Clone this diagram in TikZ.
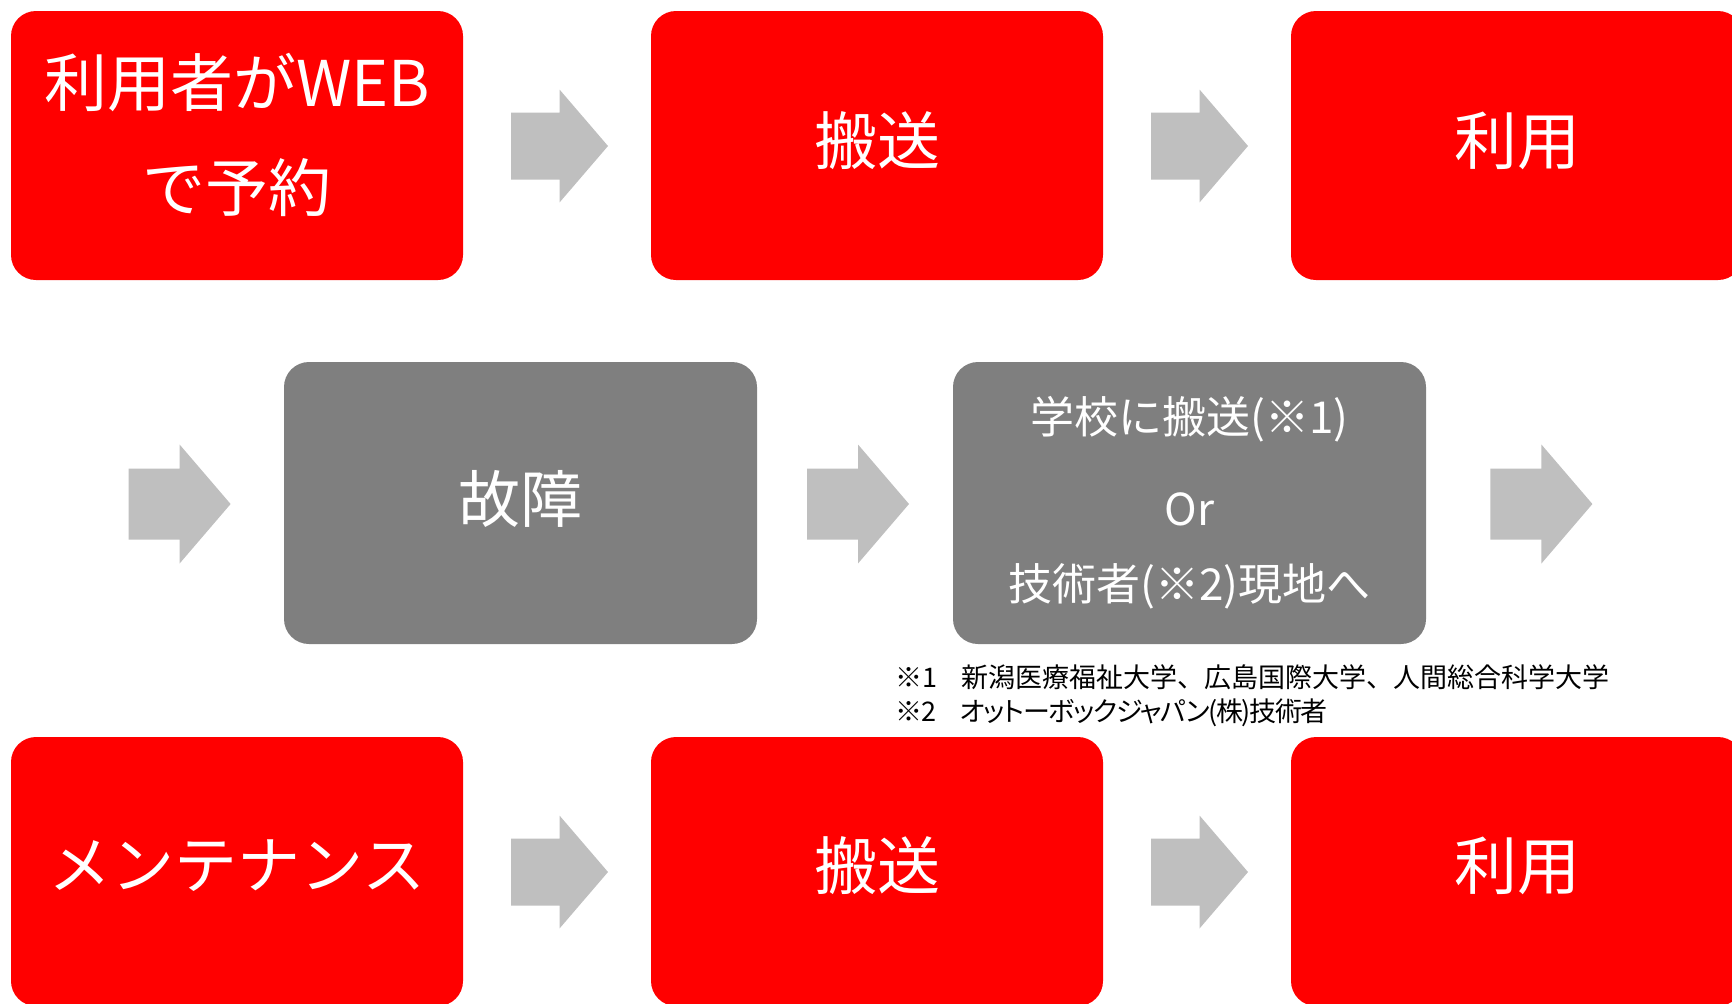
\documentclass[tikz,border=0pt]{standalone}
\usepackage{fontspec}
\setmainfont{Noto Sans CJK JP}
\newfontfamily\notefont[RawFeature=+palt,LetterSpace=-5]{Noto Sans CJK JP}
\usetikzlibrary{calc}
\definecolor{boxred}{HTML}{FF0000}
\definecolor{boxgray}{HTML}{7F7F7F}
\definecolor{agray}{HTML}{BFBFBF}
\newcommand\liftby[2]{\raisebox{#1}[\height][\depth]{#2}}
\begin{document}
\begin{tikzpicture}[x=0.5pt,y=-0.5pt,
  redbox/.style={fill=boxred, rounded corners=12.5pt, minimum width=226pt, minimum height=134.5pt,
    inner sep=0pt, text=white, align=center, font=\fontsize{31.5}{52.5}\selectfont},
  graybox/.style={fill=boxgray, rounded corners=12.5pt, minimum width=236.5pt, minimum height=141pt,
    inner sep=0pt, text=white, align=center},
  bigtext/.style={font=\fontsize{31}{40}\selectfont},
  smalltext/.style={font=\fontsize{22}{37.75}\selectfont},
  arrowsmall/.pic={\fill[agray] (-48.5,-33.5) -- (0,-33.5) -- (0,-56.5) -- (48.5,0) -- (0,56.5) -- (0,33.5) -- (-48.5,33.5) -- cycle;},
  arrowlarge/.pic={\fill[agray] (-51,-35.5) -- (0,-35.5) -- (0,-59.5) -- (51,0) -- (0,59.5) -- (0,35.5) -- (-51,35.5) -- cycle;}
]
\useasboundingbox (0,0) rectangle (1732,1003);
\clip (0,0) rectangle (1732,1003);

% row 1
\node[redbox] (r1a) at (237,145.5) {\liftby{4pt}{\begin{tabular}{@{}c@{}}利用者がWEB\\で予約\end{tabular}}};
\node[redbox] (r1b) at (877,145.5) {\liftby{2.3pt}{搬送}};
\node[redbox] (r1c) at (1517,145.5) {\liftby{2.3pt}{利用}};
\pic at ($(r1a.east)!0.5!(r1b.west)+(2.5,0.5)$) {arrowsmall};
\pic at ($(r1b.east)!0.5!(r1c.west)+(2.5,0.5)$) {arrowsmall};

% row 2
\node[graybox, bigtext] (g1) at (520.5,503) {\liftby{2.2pt}{故障}};
\node[graybox, smalltext] (g2) at (1189.5,503) {学校に搬送(※1)\\[8pt]Or\\技術者(※2)現地へ};
\coordinate (pre) at ($(g1.west)+(-104,1)$);
\coordinate (post) at ($(g2.east)+(115,1)$);
\pic at (pre) {arrowlarge};
\pic at ($(g1.east)!0.5!(g2.west)+(3,1)$) {arrowlarge};
\pic at (post) {arrowlarge};

\node[anchor=west, inner sep=0pt, align=left, font=\fontsize{13.5}{17}\selectfont] (note) at (895,695.5)
  {※1\hspace{0.9em}新潟医療福祉大学、広島国際大学、人間総合科学大学\\{\notefont ※2\hspace{0.9em}オットーボックジャパン(株)技術者}};

% row 3
\node[redbox] (r3a) at (237,871.5) {\liftby{2.8pt}{メンテナンス}};
\node[redbox] (r3b) at (877,871.5) {\liftby{3pt}{搬送}};
\node[redbox] (r3c) at (1517,871.5) {\liftby{3pt}{利用}};
\pic at ($(r3a.east)!0.5!(r3b.west)+(2.5,0.5)$) {arrowsmall};
\pic at ($(r3b.east)!0.5!(r3c.west)+(2.5,0.5)$) {arrowsmall};
\end{tikzpicture}
\end{document}
